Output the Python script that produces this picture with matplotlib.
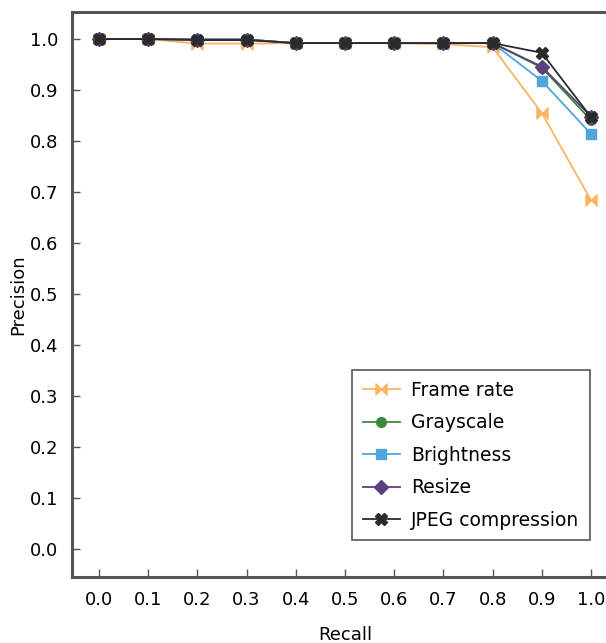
import numpy as np
import matplotlib
matplotlib.use('Agg')
import matplotlib.pyplot as plt

recall = [0.0, 0.1, 0.2, 0.3, 0.4, 0.5, 0.6, 0.7, 0.8, 0.9, 1.0]
frame_rate = [1.0, 1.0, 0.991, 0.991, 0.992, 0.992, 0.992, 0.990, 0.984, 0.855, 0.684]
grayscale = [1.0, 1.0, 0.999, 0.999, 0.992, 0.992, 0.992, 0.992, 0.992, 0.944, 0.841]
brightness = [1.0, 1.0, 0.999, 0.999, 0.992, 0.992, 0.992, 0.992, 0.992, 0.918, 0.814]
resize = [1.0, 1.0, 0.999, 0.999, 0.992, 0.992, 0.992, 0.992, 0.992, 0.946, 0.848]
jpeg = [1.0, 1.0, 0.998, 0.998, 0.992, 0.992, 0.992, 0.992, 0.992, 0.973, 0.847]
yticks = [0.0, 0.1, 0.2, 0.3, 0.4, 0.5, 0.6, 0.7, 0.8, 0.9, 1.0]

plt.rcParams['font.family'] = ['DejaVu Sans']
plt.rcParams['font.size'] = 13

bowtie = [(-1, -1), (1, 1), (1, -1), (-1, 1), (-1, -1)]

fig = plt.figure(figsize=(6.06, 6.43), dpi=100)
# axes runs past the right edge, like the cropped original
ax = fig.add_axes([72 / 606, (643 - 577) / 643, 546 / 606, 565 / 643])

ax.plot(recall, frame_rate, color='#fdb462', marker=bowtie, ms=8, lw=1.3, label='Frame rate')
ax.plot(recall, grayscale, color='#3b8a3b', marker='o', ms=7, lw=1.3, label='Grayscale')
ax.plot(recall, brightness, color='#4ea6dc', marker='s', ms=7, lw=1.3, label='Brightness')
ax.plot(recall, resize, color='#5b4080', marker='D', ms=7, lw=1.3, label='Resize')
ax.plot(recall, jpeg, color='#2b2b2b', marker='X', ms=8, lw=1.3, label='JPEG compression')

ax.set_xlim(-0.055, 1.055)
ax.set_ylim(-0.055, 1.053)
ax.set_xticks(recall)
ax.set_yticks(yticks)
ax.set_xticklabels([f'{v:.1f}' for v in recall])
ax.set_yticklabels([f'{v:.1f}' for v in yticks])
ax.tick_params(direction='in', length=6, width=1, color='#555555', pad=10)
for s in ax.spines.values():
    s.set_linewidth(2.2)
    s.set_color('#555555')
ax.spines['right'].set_visible(False)

ax.set_xlabel('Recall', labelpad=12)
ax.set_ylabel('Precision', labelpad=2)

leg = ax.legend(loc='lower right', bbox_to_anchor=(590 / 606, (643 - 540) / 643),
                bbox_transform=fig.transFigure, fancybox=False, framealpha=1,
                edgecolor='#555555', fontsize=13.5, handlelength=2.0,
                handletextpad=0.6, borderpad=0.55, labelspacing=0.72,
                borderaxespad=0)
leg.get_frame().set_linewidth(1.2)

fig.savefig('out.png', dpi=100)
